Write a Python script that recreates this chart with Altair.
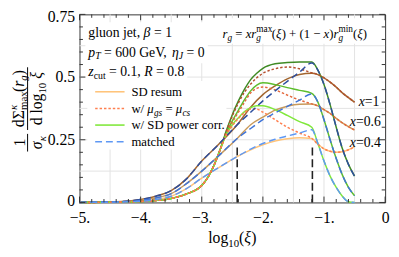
import altair as alt
import pandas as pd

# ---------------- data ----------------
xs_low = [-5.0, -4.6, -4.3, -4.0, -3.75, -3.5, -3.25, -3.0, -2.75, -2.42]
xs_mid = [-2.2, -2.0, -1.8, -1.6, -1.4, -1.2]
xs_tail = [-1.1, -1.0, -0.9, -0.8, -0.7, -0.6, -0.5]
xs_steep_low = [-5.0, -4.6, -4.3, -4.0, -3.75, -3.5, -3.25, -3.0, -2.9, -2.8, -2.7]
xs_steep_high = [-2.6, -2.5, -2.4, -2.3, -2.2, -2.1, -2.0, -1.8, -1.6, -1.4, -1.2]

groups = ["1", "0.6", "0.4"]

# SD resum (solid)
resum_low_1 = [0.0, 0.002, 0.004, 0.012, 0.025, 0.047, 0.094, 0.165, 0.225, 0.31]
resum_low_06 = [0.0, 0.0015, 0.003, 0.008, 0.018, 0.035, 0.075, 0.125, 0.18, 0.255]
resum_low_04 = [0.0, 0.001, 0.002, 0.005, 0.012, 0.025, 0.055, 0.097, 0.135, 0.183]
resum_mid_1 = [0.38, 0.43, 0.465, 0.493, 0.51, 0.515]
resum_mid_06 = [0.31, 0.34, 0.368, 0.384, 0.392, 0.393]
resum_mid_04 = [0.21, 0.23, 0.245, 0.254, 0.258, 0.255]
resum_tail_1 = [0.51, 0.497, 0.48, 0.46, 0.437, 0.418, 0.40]
resum_tail_06 = [0.385, 0.37, 0.355, 0.335, 0.317, 0.302, 0.289]
resum_tail_04 = [0.232, 0.214, 0.204, 0.2, 0.202, 0.21, 0.223]

# matched (dashed): equals SD resum below the left marker, own values after
matched_mid_1 = [0.36, 0.405, 0.445, 0.483, 0.52, 0.556]
matched_mid_06 = [0.295, 0.33, 0.357, 0.383, 0.408, 0.433]
matched_mid_04 = [0.213, 0.235, 0.252, 0.265, 0.277, 0.29]

# common fall-off beyond the right marker (power corr. and matched)
drop_tail_1 = [0.528, 0.47, 0.39, 0.30, 0.215, 0.152, 0.105]
drop_tail_06 = [0.40, 0.33, 0.25, 0.175, 0.11, 0.06, 0.027]
drop_tail_04 = [0.235, 0.165, 0.105, 0.06, 0.025, 0.003, 0.0]

# steep rise shared by "w/ SD power corr." and "w/ mu_gs = mu_cs"
steep_low = [0.0, 0.0005, 0.002, 0.004, 0.008, 0.016, 0.034, 0.068, 0.1, 0.148, 0.21]
power_high_1 = [0.285, 0.35, 0.405, 0.452, 0.49, 0.515, 0.535, 0.553, 0.558, 0.56, 0.56]
power_high_06 = [0.275, 0.325, 0.368, 0.41, 0.445, 0.468, 0.477, 0.47, 0.458, 0.447, 0.435]
power_high_04 = [0.27, 0.31, 0.338, 0.362, 0.378, 0.386, 0.386, 0.37, 0.347, 0.322, 0.30]
mu_high_1 = [0.283, 0.345, 0.397, 0.44, 0.472, 0.497, 0.515, 0.533, 0.54, 0.533, 0.517]
mu_high_06 = [0.273, 0.32, 0.36, 0.40, 0.437, 0.455, 0.46, 0.449, 0.428, 0.408, 0.393]
mu_high_04 = [0.268, 0.305, 0.335, 0.358, 0.373, 0.372, 0.36, 0.33, 0.30, 0.277, 0.255]

# vertical markers
marker_x = [-2.42, -1.19]
marker_top = [0.23, 0.23]

# axis ticks / grid
x_major = [-5, -4, -3, -2, -1, 0]
x_minor = [round(-5 + 0.2 * i, 2) for i in range(26) if i % 5 != 0]
y_major = [0, 0.25, 0.5, 0.75]
y_minor = [round(0.05 * i, 2) for i in range(16) if i % 5 != 0]
x_grid = [-4.5, -4.0, -3.5, -3.0, -2.5, -2.0, -1.5, -1.0, -0.5]
y_grid = [0.125, 0.25, 0.375, 0.5, 0.625]

# colours
resum_colors = ["#A2652E", "#C99A5B", "#FFC47A"]
mu_colors = ["#B5512F", "#E4683C", "#FF7F4F"]
power_colors = ["#3F8A24", "#5DBE2D", "#80E83B"]
matched_colors = ["#2D4E9E", "#3F74D8", "#5E98F4"]

# ---------------- assemble tables ----------------
W, H = 312, 192
X0, X1, Y0, Y1 = -5.0, 0.0, 0.0, 0.75
FRAME = "#333333"
SERIF = "Liberation Serif"


def rows(kind, grp, col, xs, ys):
    return [dict(kind=kind, grp=grp, col=col, xi=a, val=b) for a, b in zip(xs, ys)]


recs = []
R = {"1": (resum_low_1, resum_mid_1, resum_tail_1),
     "0.6": (resum_low_06, resum_mid_06, resum_tail_06),
     "0.4": (resum_low_04, resum_mid_04, resum_tail_04)}
M = {"1": matched_mid_1, "0.6": matched_mid_06, "0.4": matched_mid_04}
D = {"1": drop_tail_1, "0.6": drop_tail_06, "0.4": drop_tail_04}
P = {"1": power_high_1, "0.6": power_high_06, "0.4": power_high_04}
U = {"1": mu_high_1, "0.6": mu_high_06, "0.4": mu_high_04}
for k, g in enumerate(groups):
    lo, mi, ta = R[g]
    recs += rows("resum", g, resum_colors[k], xs_low + xs_mid + xs_tail, lo + mi + ta)
    recs += rows("matched", g, matched_colors[k], xs_low + xs_mid + xs_tail, lo + M[g] + D[g])
    recs += rows("power", g, power_colors[k], xs_steep_low + xs_steep_high + xs_tail, steep_low + P[g] + D[g])
    recs += rows("mu", g, mu_colors[k], xs_steep_low + xs_steep_high + xs_tail, steep_low + U[g] + ta)
curves = pd.DataFrame(recs)

xscale = alt.Scale(domain=[X0, X1], nice=False, zero=False)
yscale = alt.Scale(domain=[Y0, Y1], nice=False, zero=False)

x_axis = alt.Axis(values=x_major, labelExpr="datum.value == 0 ? '0' : '\u2212' + format(-datum.value, 'd') + '.'",
                  ticks=False, domain=False, grid=False, labelFont=SERIF, labelFontSize=16,
                  labelColor="black", labelPadding=7, title=None, labelFlush=False, labelOverlap=False)
y_axis = alt.Axis(values=y_major, labelExpr="'' + datum.value", ticks=False, domain=False, grid=False,
                  labelFont=SERIF, labelFontSize=16, labelColor="black", labelPadding=5, title=None,
                  labelFlush=False, labelOverlap=False,
                  labelOffset=alt.ExprRef(expr="datum.value == 0.75 ? 2 : (datum.value == 0 ? -2 : 0)"))


def XE(field):
    return alt.X(field, scale=xscale, axis=x_axis)


def YE(field):
    return alt.Y(field, scale=yscale, axis=y_axis)


def curve_layer(kind, dash=None):
    kw = dict(strokeWidth=1.5, interpolate="monotone")
    if dash:
        kw["strokeDash"] = dash
    return alt.Chart(curves[curves.kind == kind]).mark_line(**kw).encode(
        x=XE("xi:Q"), y=YE("val:Q"),
        color=alt.Color("col:N", scale=None),
        detail="grp:N",
    )


# grid (data units)
xgrid_df = pd.DataFrame({"gx": x_grid, "gy1": Y0, "gy2": Y1})
ygrid_df = pd.DataFrame({"gy": y_grid, "gx1": X0, "gx2": X1})
xg = alt.Chart(xgrid_df).mark_rule(color="#E2E2E2", strokeWidth=1).encode(
    x=XE("gx:Q"), y=YE("gy1:Q"), y2="gy2:Q")
yg = alt.Chart(ygrid_df).mark_rule(color="#E2E2E2", strokeWidth=1).encode(
    y=YE("gy:Q"), x=XE("gx1:Q"), x2="gx2:Q")

# tick marks, inside the frame on all four sides (lengths in data units)
px_y = (Y1 - Y0) / H
px_x = (X1 - X0) / W
xt = []
for vals, L in ((x_major, 6), (x_minor, 3.5)):
    for v in vals:
        xt.append(dict(tx=v, ty1=Y0, ty2=Y0 + L * px_y))
        xt.append(dict(tx=v, ty1=Y1 - L * px_y, ty2=Y1))
yt = []
for vals, L in ((y_major, 6), (y_minor, 3.5)):
    for v in vals:
        yt.append(dict(ty=v, tx1=X0, tx2=X0 + L * px_x))
        yt.append(dict(ty=v, tx1=X1 - L * px_x, tx2=X1))
xtick_layer = alt.Chart(pd.DataFrame(xt)).mark_rule(color=FRAME, strokeWidth=1).encode(
    x=XE("tx:Q"), y=YE("ty1:Q"), y2="ty2:Q")
ytick_layer = alt.Chart(pd.DataFrame(yt)).mark_rule(color=FRAME, strokeWidth=1).encode(
    y=YE("ty:Q"), x=XE("tx1:Q"), x2="tx2:Q")

# white boxes behind the inset texts (pixels)
boxes = pd.DataFrame([
    dict(x1=6, x2=131, y1=8, y2=50),
    dict(x1=6, x2=110, y1=50, y2=68),
    dict(x1=8, x2=150, y1=68, y2=138),
    dict(x1=141, x2=302, y1=4, y2=30),
])
box_layer = alt.Chart(boxes).mark_rect(color="white").encode(
    x=alt.X("x1:Q", scale=None), x2="x2:Q", y=alt.Y("y1:Q", scale=None), y2="y2:Q")

# vertical dashed markers
mk = pd.DataFrame({"vx": marker_x, "vb": [0.0, 0.0], "vt": marker_top})
markers = alt.Chart(mk).mark_rule(color="#222222", strokeWidth=1.6, strokeDash=[8, 4]).encode(
    x=XE("vx:Q"), y=YE("vb:Q"), y2="vt:Q")

# ---------------- text pieces ----------------
CW = {' ': 250, '.': 250, ',': 250, '=': 564, '+': 564, '\u2212': 564, '(': 333, ')': 333, '/': 278,
      'a': 444, 'c': 444, 'd': 500, 'e': 444, 'g': 500, 'h': 500, 'i': 278, 'j': 278, 'l': 278,
      'm': 778, 'n': 500, 'o': 500, 'p': 500, 'r': 389, 's': 389, 't': 278, 'u': 500, 'w': 722,
      'x': 444, 'z': 389, 'D': 722, 'G': 722, 'R': 611, 'S': 556, 'T': 556, 'V': 722, 'J': 444,
      '\u03b2': 520, '\u03b7': 500, '\u03bc': 520, '\u03be': 440, '\u03c3': 520, '\u03ba': 480,
      '\u03a3': 600}


def tw(s, size):
    return sum(CW.get(c, 500) for c in s) * size / 1000.0


def advance(p):
    return p[4] if len(p) > 4 else tw(p[0], p[1])


def run(pieces, x0, y0, rotate=False, center=False):
    total = sum(advance(p) for p in pieces)
    out = []
    a = -total / 2 if center else 0
    for p in pieces:
        t, size, it, dy = p[:4]
        lead = tw(t[: len(t) - len(t.lstrip())], size)
        s = t.strip()
        if s:
            if rotate:
                out.append(dict(px=x0 + dy, py=y0 - a - lead, t=s, fs=size, it=it, ang=270))
            else:
                out.append(dict(px=x0 + a + lead, py=y0 + dy, t=s, fs=size, it=it, ang=0))
        a += advance(p)
    return out


N, I = False, True
texts = []
# inset annotation
texts += run([("gluon jet, ", 14, N, 0), ("\u03b2", 14, I, 0), (" = 1", 14, N, 0)], 9, 23)
texts += run([("p", 14, I, 0), ("T", 10, I, 3), (" = 600 GeV, ", 14, N, 0), ("\u03b7", 14, I, 0),
              ("J", 10, I, 3), (" = 0", 14, N, 0)], 9, 43)
texts += run([("z", 14, I, 0), ("cut", 10, N, 3), (" = 0.1, ", 14, N, 0), ("R", 14, I, 0),
              (" = 0.8", 14, N, 0)], 9, 63)
# formula
F, f = 13, 9.5
texts += run([("r", F, I, 0), ("g", f, I, 3), (" = ", F, N, 0), ("x", F, I, 0), ("r", F, I, 0),
              ("max", f, N, -6, 0), ("g", f, I, 3, tw("max", f)), ("(", F, N, 0), ("\u03be", F, I, 0),
              (")", F, N, 0), (" + (1 \u2212 ", F, N, 0), ("x", F, I, 0), (")", F, N, 0),
              ("r", F, I, 0), ("min", f, N, -6, 0), ("g", f, I, 3, tw("min", f)), ("(", F, N, 0),
              ("\u03be", F, I, 0), (")", F, N, 0)], 146, 24)
# curve labels
texts += run([("x", 14, I, 0), ("=1", 14, N, 0)], 285, 94)
texts += run([("x", 14, I, 0), ("=0.6", 14, N, 0)], 276, 114)
texts += run([("x", 14, I, 0), ("=0.4", 14, N, 0)], 276, 135)
# legend texts
leg_y = [79, 96, 113, 130]
LF = 13
texts += run([("SD resum", LF, N, 0)], 53, leg_y[0] + 4.5)
texts += run([("w/ ", LF, N, 0), ("\u03bc", LF, I, 0), ("gs", 9.5, I, 3), (" = ", LF, N, 0),
              ("\u03bc", LF, I, 0), ("cs", 9.5, I, 3)], 53, leg_y[1] + 4.5)
texts += run([("w/ SD power corr.", LF, N, 0)], 53, leg_y[2] + 4.5)
texts += run([("matched", LF, N, 0)], 53, leg_y[3] + 4.5)
# x title
texts += run([("log", 16, N, 0), ("10", 11, N, 4), ("(", 16, N, 0), ("\u03be", 16, I, 0), (")", 16, N, 0)],
             W / 2, 233, center=True)
# y title (rotated fractions)
texts += run([("1", 16, N, 0)], -56, 131, rotate=True, center=True)
texts += run([("\u03c3", 16, I, 0), ("\u03ba", 11, I, 3.5)], -38, 131, rotate=True, center=True)
texts += run([("d\u03a3", 16, N, 0), ("\u03ba", 11, I, -6.5, 0), ("max", 11, N, 3.5),
              ("(", 16, N, 0), ("r", 16, I, 0), ("g", 11, I, 3.5), (")", 16, N, 0)],
             -57, 86, rotate=True, center=True)
texts += run([("d log", 16, N, 0), ("10", 11, N, 3.5), (" ", 16, N, 0), ("\u03be", 16, I, 0)],
             -38, 86, rotate=True, center=True)

tdf = pd.DataFrame(texts)


def text_layer(df, style):
    return alt.Chart(df).mark_text(align="left", baseline="alphabetic", font=SERIF, fontStyle=style,
                                   color="black").encode(
        x=alt.X("px:Q", scale=None), y=alt.Y("py:Q", scale=None), text="t:N",
        size=alt.Size("fs:Q", scale=None), angle=alt.Angle("ang:Q", scale=None))


txt_normal = text_layer(tdf[~tdf.it], "normal")
txt_italic = text_layer(tdf[tdf.it], "italic")

# fraction bars of the y title
fbars = pd.DataFrame([dict(fx=-53, fy1=122, fy2=140), dict(fx=-53, fy1=54, fy2=118)])
frac_layer = alt.Chart(fbars).mark_rule(color="black", strokeWidth=1).encode(
    x=alt.X("fx:Q", scale=None), y=alt.Y("fy1:Q", scale=None), y2="fy2:Q")

# legend samples
leg = pd.DataFrame({"lx1": [16] * 4, "lx2": [46] * 4, "ly": leg_y})
leg_colors = [resum_colors[2], mu_colors[2], power_colors[2], matched_colors[2]]
leg_dash = [None, [2.5, 2], None, [7, 4]]
leg_layers = []
for i in range(4):
    kw = dict(strokeWidth=1.6, color=leg_colors[i])
    if leg_dash[i]:
        kw["strokeDash"] = leg_dash[i]
    leg_layers.append(alt.Chart(leg.iloc[[i]]).mark_rule(**kw).encode(
        x=alt.X("lx1:Q", scale=None), x2="lx2:Q", y=alt.Y("ly:Q", scale=None)))

layers = ([xg, yg, box_layer, markers,
           curve_layer("resum"),
           curve_layer("power"),
           curve_layer("mu", [2.5, 2]),
           curve_layer("matched", [7, 4]),
           xtick_layer, ytick_layer]
          + leg_layers + [frac_layer, txt_normal, txt_italic])

chart = alt.layer(*layers).properties(
    width=W, height=H,
    autosize=alt.AutoSizeParams(type="none"),
    padding={"left": 73, "top": 4, "right": 6, "bottom": 45},
    background="white",
).configure_view(stroke=FRAME, strokeWidth=1)

chart.save("out.html", embed_options={"renderer": "svg", "actions": False})
